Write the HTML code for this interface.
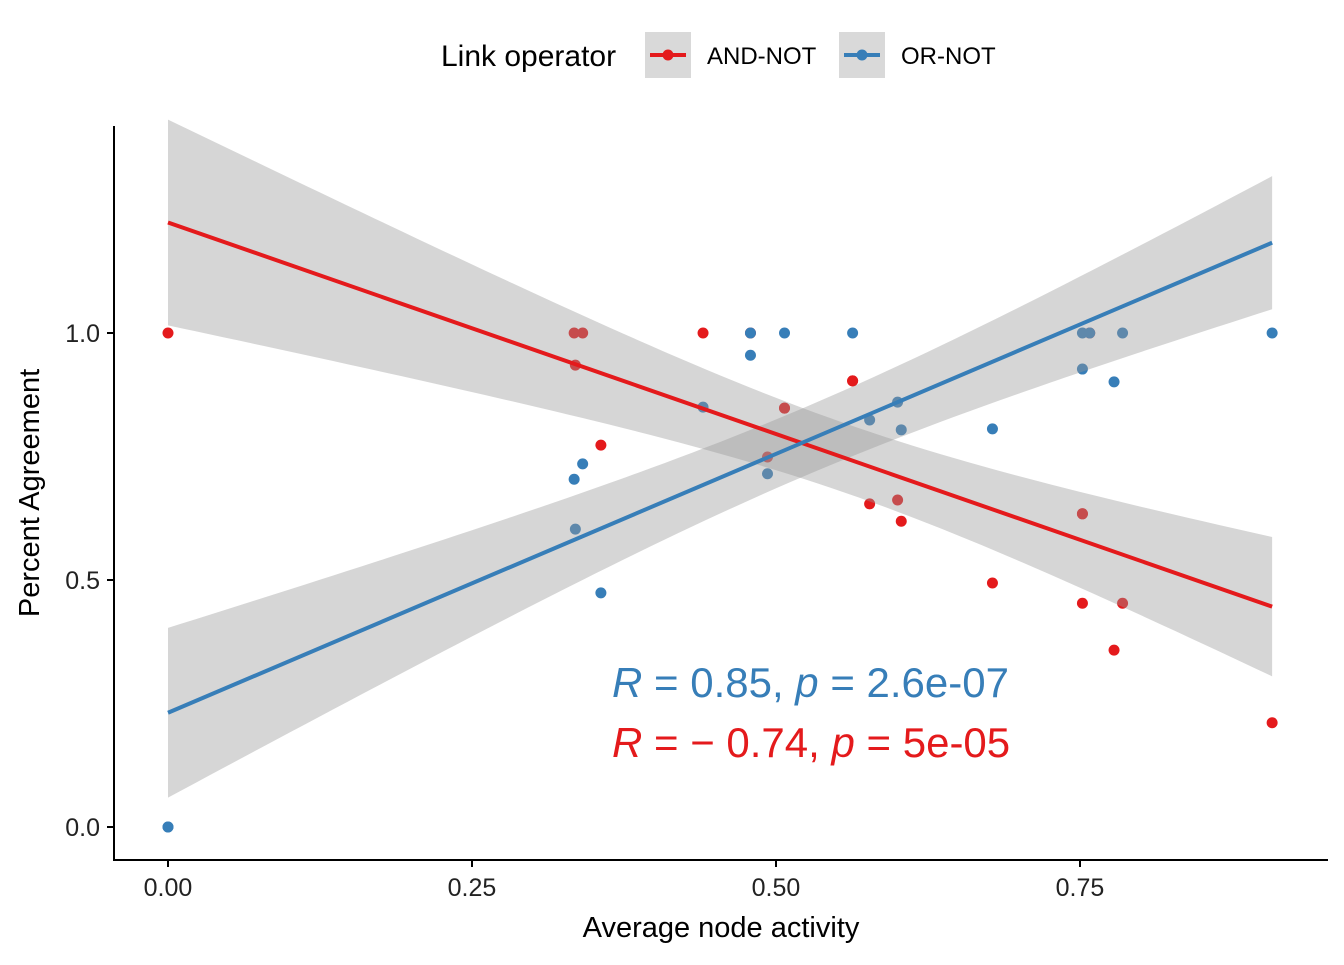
<!DOCTYPE html>
<html><head><meta charset="utf-8"><style>
body{margin:0;background:#fff;}
svg{font-family:"Liberation Sans",sans-serif;}
</style></head><body>
<svg id="chart" width="1344" height="960" xmlns="http://www.w3.org/2000/svg">
<g>
<text x="441" y="66" font-size="30" fill="#000">Link operator</text>
<g>
<rect x="645" y="32" width="46" height="46" fill="#d9d9d9"/>
<line x1="650" y1="55" x2="686" y2="55" stroke="#e41a1c" stroke-width="4"/>
<circle cx="668" cy="55" r="5.5" fill="#e41a1c"/>
<text x="707" y="64" font-size="24">AND-NOT</text></g>
<g>
<rect x="839" y="32" width="46" height="46" fill="#d9d9d9"/>
<line x1="844" y1="55" x2="880" y2="55" stroke="#377eb8" stroke-width="4"/>
<circle cx="862" cy="55" r="5.5" fill="#377eb8"/>
<text x="901" y="64" font-size="24">OR-NOT</text></g>
</g>
<g id="pts"></g><g id="bands"></g><g id="lines"></g>
<g id="axes"></g>
<text x="612" y="697" font-size="42" fill="#377eb8"><tspan font-style="italic">R</tspan> = 0.85, <tspan font-style="italic">p</tspan> = 2.6e-07</text>
<text x="612" y="757" font-size="42" fill="#e41a1c"><tspan font-style="italic">R</tspan> = − 0.74, <tspan font-style="italic">p</tspan> = 5e-05</text>
<text x="721" y="937" font-size="29" text-anchor="middle">Average node activity</text>
<text transform="translate(39,493) rotate(-90)" font-size="29" text-anchor="middle">Percent Agreement</text>
</svg>
<script>
const redX=[0,0.334,0.341,0.335,0.356,0.44,0.479,0.507,0.507,0.563,0.563,0.493,0.577,0.600,0.603,0.678,0.752,0.752,0.752,0.758,0.778,0.785,0.908];
const redY=[1,1,1,0.935,0.773,1,1,0.848,0.848,0.903,0.903,0.749,0.654,0.662,0.619,0.494,0.634,0.634,0.453,1,0.358,0.453,0.211];
const blueX=[0,0,0.334,0.341,0.335,0.356,0.44,0.479,0.479,0.507,0.493,0.563,0.577,0.600,0.603,0.678,0.752,0.758,0.752,0.778,0.785,0.908];
const blueY=[0,0,0.704,0.735,0.603,0.474,0.850,1,0.955,1,0.715,1,0.824,0.860,0.804,0.806,1,1,0.927,0.901,1,1];
const xTicks=[0,0.25,0.5,0.75];
const xTickLabels=["0.00","0.25","0.50","0.75"];
const yTicks=[0,0.5,1];
const yTickLabels=["0.0","0.5","1.0"];
const NS="http://www.w3.org/2000/svg";
const sx=v=>168+v*1216, sy=v=>827-v*494;
function mk(tag,attrs,parent){const e=document.createElementNS(NS,tag);for(const k in attrs)e.setAttribute(k,attrs[k]);parent.appendChild(e);return e;}
const bands=document.getElementById('bands'),lines=document.getElementById('lines'),pts=document.getElementById('pts'),axes=document.getElementById('axes');
function fit(X,Y,color,name){
  const n=X.length,mx=X.reduce((a,b)=>a+b)/n,my=Y.reduce((a,b)=>a+b)/n;
  let sxx=0,sxy=0;for(let i=0;i<n;i++){sxx+=(X[i]-mx)**2;sxy+=(X[i]-mx)*(Y[i]-my);}
  const b=sxy/sxx,a=my-b*mx;let sse=0;for(let i=0;i<n;i++)sse+=(Y[i]-a-b*X[i])**2;
  const s=Math.sqrt(sse/(n-2)),t=2.09;
  const x0=Math.min(...X),x1=Math.max(...X);const up=[],lo=[];
  for(let k=0;k<=80;k++){const x=x0+(x1-x0)*k/80,y=a+b*x,se=s*Math.sqrt(1/n+(x-mx)**2/sxx)*t;up.push(sx(x)+','+sy(y+se));lo.unshift(sx(x)+','+sy(y-se));}
  const band=mk('polygon',{points:up.concat(lo).join(' '),fill:'#999','fill-opacity':0.4},bands);
  
  
  const ln=mk('line',{x1:sx(x0),y1:sy(a+b*x0),x2:sx(x1),y2:sy(a+b*x1),stroke:color,'stroke-width':4},lines);
  
  
  for(let i=0;i<n;i++){const c=mk('circle',{cx:sx(X[i]),cy:sy(Y[i]),r:5.5,fill:color},pts);
    
    }
}
fit(redX,redY,'#e41a1c','and-not');
fit(blueX,blueY,'#377eb8','or-not');
const ya=mk('line',{x1:114,y1:126,x2:114,y2:861,stroke:'#000','stroke-width':2},axes);


const xa=mk('line',{x1:113,y1:860,x2:1328,y2:860,stroke:'#000','stroke-width':2},axes);


xTicks.forEach((v,i)=>{mk('line',{x1:sx(v),y1:860,x2:sx(v),y2:867,stroke:'#000','stroke-width':2},axes);
  const t=mk('text',{x:sx(v),y:896,'font-size':25,'text-anchor':'middle',fill:'#222'},axes);t.textContent=xTickLabels[i];
  
  });
yTicks.forEach((v,i)=>{mk('line',{x1:107,y1:sy(v),x2:114,y2:sy(v),stroke:'#000','stroke-width':2},axes);
  const t=mk('text',{x:100,y:sy(v)+9,'font-size':25,'text-anchor':'end',fill:'#222'},axes);t.textContent=yTickLabels[i];
  
  });
</script>
</body></html>
